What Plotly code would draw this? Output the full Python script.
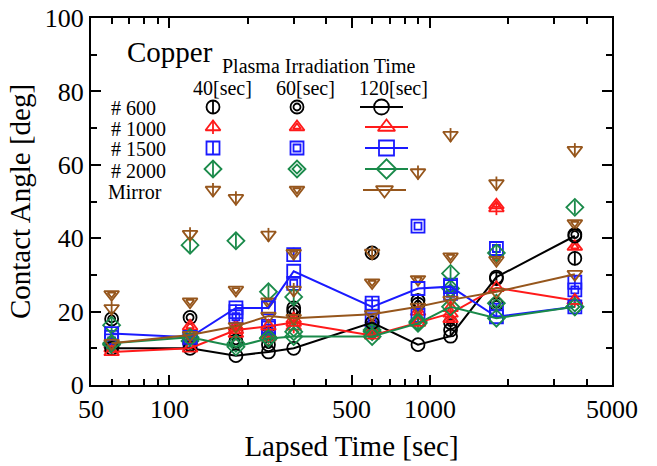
import plotly.graph_objects as go

# ---------------- data ----------------
lapsed_time = [60, 120, 180, 240, 300, 600, 900, 1200, 1800, 3600]

# #600 (black)
g600_40 = [11, 11, 14.5, 14, 21, 16, 23, 15, 29, 34.5]
g600_60 = [18, 18.4, 12, 11, 20, 36, 22, 17, 22, 41]
g600_120 = [10, 10, 8, 9, 10, 17, 11, 13.3, 29.4, 40.6]
# #1000 (red)
g1000_40 = [10, 12, 14, 13, 16, 16, 18, 21, 48.2, 23]
g1000_60 = [11, 16, 16, 14, 18, 15, 20, 18, 49, 37.7]
g1000_120 = [9, 10, 15, 16, 17, 13.5, 17, 19.5, 26.5, 23]
# #1500 (blue)
g1500_40 = [13, 12, 20, 16, 35.5, 22.3, 19, 27.2, 20.4, 28]
g1500_60 = [12, 13, 18.6, 15.5, 27.7, 17.7, 43.3, 25, 37.2, 25.9]
g1500_120 = [14, 13, 21, 21, 31, 21.3, 26.3, 26.8, 18.6, 21.3]
# #2000 (green)
g2000_40 = [16.3, 38.1, 39.3, 25.4, 24, 15, 17, 30.4, 36, 48.4]
g2000_60 = [11, 12, 11.4, 12.8, 14.5, 14.5, 17.3, 26.3, 22.3, 21.3]
g2000_120 = [11.4, 13, 10.4, 12.7, 13.2, 13.2, 16.8, 21.3, 18.2, 21.3]
# Mirror (brown)
mir_40 = [20.9, 41.1, 50.9, 40.9, 25.9, 36, 57.9, 68.1, 54.9, 64]
mir_60 = [24.7, 22.7, 25.9, 22.7, 35.9, 27.9, 28.8, 35, 34, 44]
mir_120 = [11.4, 13.6, 16, 18.8, 18.2, 19.3, 21.3, 23.2, 25.4, 30.2]

x_tickvals = [50, 100, 500, 1000, 5000]
x_ticktext = ["50", "100", "500", "1000", "5000"]
x_minor = [60, 70, 80, 90, 200, 300, 400, 600, 700, 800, 900, 2000, 3000, 4000]
y_tickvals = [0, 20, 40, 60, 80, 100]

group_names = ["# 600", "# 1000", "# 1500", "# 2000", "Mirror"]
group_colors = ["#000000", "#ff1a1a", "#1a1aff", "#1a8a4a", "#96561c"]
group_symbols = ["circle", "triangle-up", "square", "diamond", "triangle-down"]
series = [
    (g600_40, g600_60, g600_120),
    (g1000_40, g1000_60, g1000_120),
    (g1500_40, g1500_60, g1500_120),
    (g2000_40, g2000_60, g2000_120),
    (mir_40, mir_60, mir_120),
]
time_labels = ["40[sec]", "60[sec]", "120[sec]"]

FONT = "Liberation Serif"
SIZE = 13
LW = 1.8

fig = go.Figure()


def add_marker(x, y, color, sym, kind, xaxis="x", yaxis="y", line=False, size=SIZE):
    # kind: 40 -> open + vertical bar, 60 -> concentric, 120 -> open with line
    if kind == 120:
        fig.add_trace(go.Scatter(
            x=x, y=y, mode="lines+markers" if line else "markers",
            xaxis=xaxis, yaxis=yaxis,
            line=dict(color=color, width=2),
            marker=dict(symbol=sym + "-open", size=size, color=color,
                        line=dict(width=LW, color=color)),
            showlegend=False, hoverinfo="skip"))
    elif kind == 40:
        fig.add_trace(go.Scatter(
            x=x, y=y, mode="markers", xaxis=xaxis, yaxis=yaxis,
            marker=dict(symbol=sym + "-open", size=size, color=color,
                        line=dict(width=LW, color=color)),
            showlegend=False, hoverinfo="skip"))
        fig.add_trace(go.Scatter(
            x=x, y=y, mode="markers", xaxis=xaxis, yaxis=yaxis,
            marker=dict(symbol="line-ns-open", size=size - 3, color=color,
                        line=dict(width=LW, color=color)),
            showlegend=False, hoverinfo="skip"))
    else:
        fig.add_trace(go.Scatter(
            x=x, y=y, mode="markers", xaxis=xaxis, yaxis=yaxis,
            marker=dict(symbol=sym + "-open", size=size, color=color,
                        line=dict(width=LW, color=color)),
            showlegend=False, hoverinfo="skip"))
        fig.add_trace(go.Scatter(
            x=x, y=y, mode="markers", xaxis=xaxis, yaxis=yaxis,
            marker=dict(symbol=sym + "-open", size=size - 6, color=color,
                        line=dict(width=LW, color=color)),
            showlegend=False, hoverinfo="skip"))


# data: scatter (40, 60) first, lines (120) after
for gi in range(5):
    c, s = group_colors[gi], group_symbols[gi]
    add_marker(lapsed_time, series[gi][0], c, s, 40)
    add_marker(lapsed_time, series[gi][1], c, s, 60)
for gi in range(5):
    c, s = group_colors[gi], group_symbols[gi]
    add_marker(lapsed_time, series[gi][2], c, s, 120, line=True)

# ------------- in-plot legend (overlay axes 0..1) -------------
PL, PR, PT, PB = 91, 612, 18, 385
W, H = 657, 466


def fx(px):
    return (px - PL) / (PR - PL)


def fy(py):
    return (PB - py) / (PB - PT)


sym_row_py = [107, 127, 148, 169, 190]
lab_row_py = [108, 129, 149, 171, 192]
col_px = [213, 297, 384]
line_x = [(360, 403), (365, 408), (365, 408), (365, 408), (363, 406)]
for gi in range(5):
    c, s = group_colors[gi], group_symbols[gi]
    yy = fy(sym_row_py[gi])
    add_marker([fx(col_px[0])], [yy], c, s, 40, "x2", "y2")
    add_marker([fx(col_px[1])], [yy], c, s, 60, "x2", "y2")
    x0, x1 = line_x[gi]
    add_marker([fx(x0), fx(x1)], [yy, yy], c, s, 120, "x2", "y2", line=True)
    fig.data[-1].update(mode="lines")
    add_marker([fx((x0 + x1) / 2)], [yy], c, s, 120, "x2", "y2", size=15)

annotations = []
for gi in range(5):
    annotations.append(dict(xref="x2", yref="y2", x=fx(109 if gi < 4 else 106), y=fy(lab_row_py[gi]),
                            text=group_names[gi], showarrow=False, xanchor="left",
                            yanchor="middle", font=dict(family=FONT, size=20, color="black")))
for ci, t in enumerate(time_labels):
    annotations.append(dict(xref="x2", yref="y2", x=fx([222, 305, 393][ci]), y=fy(88),
                            text=t, showarrow=False, xanchor="center", yanchor="middle",
                            font=dict(family=FONT, size=20, color="black")))
annotations.append(dict(xref="x2", yref="y2", x=fx(125), y=fy(52), text="Copper",
                        showarrow=False, xanchor="left", yanchor="middle",
                        font=dict(family=FONT, size=29, color="black")))
annotations.append(dict(xref="x2", yref="y2", x=fx(318), y=fy(66),
                        text="Plasma Irradiation Time", showarrow=False,
                        xanchor="center", yanchor="middle",
                        font=dict(family=FONT, size=20, color="black")))

axis_common = dict(showgrid=False, zeroline=False, showline=True, linecolor="black",
                   linewidth=2, ticks="inside", mirror="allticks", tickcolor="black",
                   tickwidth=1.5, ticklen=10, automargin=False, ticklabeloverflow="allow",
                   tickfont=dict(family=FONT, size=26, color="black"))

fig.update_layout(
    width=W, height=H,
    margin=dict(l=PL, r=W - PR, t=PT, b=H - PB, autoexpand=False),
    paper_bgcolor="white", plot_bgcolor="white",
    showlegend=False,
    font=dict(family=FONT),
    xaxis=dict(type="log", range=[1.69897, 3.69897], tickmode="array",
               tickvals=x_tickvals, ticktext=x_ticktext,
               minor=dict(tickmode="array", tickvals=x_minor, ticks="inside",
                          ticklen=6, tickcolor="black", tickwidth=1.5),
               title=dict(text="Lapsed Time [sec]", font=dict(family=FONT, size=29, color="black"),
                          standoff=12),
               **axis_common),
    yaxis=dict(range=[0, 100], tickmode="array", tickvals=y_tickvals,
               minor=dict(dtick=10, ticks="inside", ticklen=6, tickcolor="black", tickwidth=1.5),
               title=dict(text="Contact Angle [deg]", font=dict(family=FONT, size=29, color="black"),
                          standoff=6),
               **axis_common),
    xaxis2=dict(overlaying="x", range=[0, 1], visible=False, anchor="y2"),
    yaxis2=dict(overlaying="y", range=[0, 1], visible=False, anchor="x2"),
    annotations=annotations,
)

fig.write_html("out.html", config={"displayModeBar": False},
               post_script="document.body.style.margin='0';document.body.style.overflow='hidden';")
